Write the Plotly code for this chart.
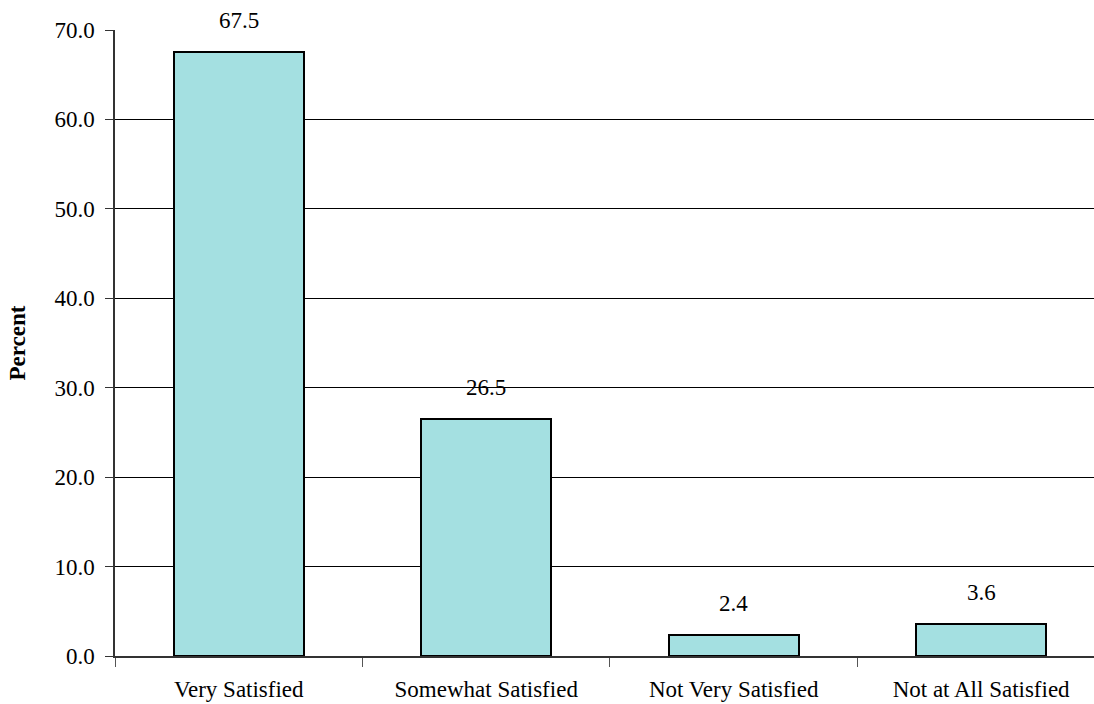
import plotly.graph_objects as go

categories = ["Very Satisfied", "Somewhat Satisfied", "Not Very Satisfied", "Not at All Satisfied"]
values = [67.5, 26.5, 2.4, 3.6]
value_labels = ["67.5", "26.5", "2.4", "3.6"]
y_ticks = [0, 10, 20, 30, 40, 50, 60, 70]
y_tick_labels = ["0.0", "10.0", "20.0", "30.0", "40.0", "50.0", "60.0", "70.0"]

FONT = "Liberation Serif"
FS = 23

fig = go.Figure()
fig.add_trace(go.Bar(
    x=categories, y=values, width=0.524,
    marker=dict(color="#A4E0E1", line=dict(color="black", width=2)),
    showlegend=False, hoverinfo="x+y",
))

for c, v, t in zip(categories, values, value_labels):
    fig.add_annotation(x=c, y=v, text=t, showarrow=False, yanchor="bottom",
                       yshift=17, font=dict(family=FONT, size=FS, color="black"))

fig.update_layout(
    width=1094, height=704,
    margin=dict(l=115, r=0, t=30, b=48),
    plot_bgcolor="white", paper_bgcolor="white",
    bargap=0,
    font=dict(family=FONT, size=FS, color="black"),
)
fig.update_xaxes(
    type="category", range=[-0.5, 3.456],
    showline=True, linecolor="#333333", linewidth=1.5,
    ticks="outside", tickson="boundaries", ticklen=9, tickcolor="#555555", tickwidth=1.2,
    showgrid=False, tickfont=dict(family=FONT, size=FS), ticklabelstandoff=12,
)
fig.update_yaxes(
    range=[0, 70], tickvals=y_ticks, ticktext=y_tick_labels,
    showline=True, linecolor="#333333", linewidth=1.5,
    ticks="outside", ticklen=8, tickcolor="#333333",
    showgrid=True, gridcolor="black", gridwidth=1, zeroline=False,
    tickfont=dict(family=FONT, size=FS), ticklabelstandoff=6,
    title=dict(text="<b>Percent</b>", font=dict(family=FONT, size=FS), standoff=22),
)

fig.write_html("out.html")
